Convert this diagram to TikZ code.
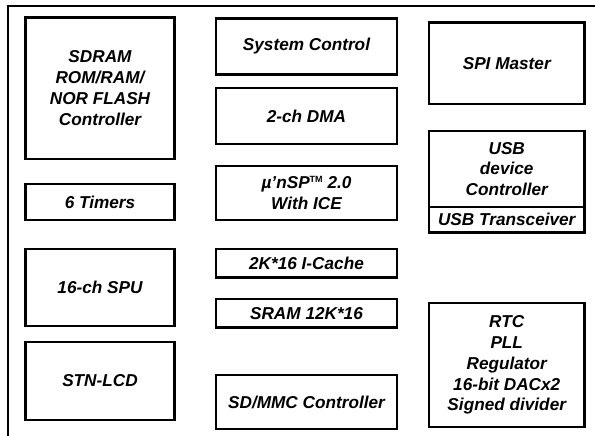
\documentclass[tikz,border=0pt]{standalone}
\usepackage{fontspec}
\setmainfont{Liberation Sans}
\begin{document}
\begin{tikzpicture}[x=1pt,y=-1pt,
  blk/.style={draw, line width=2.6pt, rectangle, inner sep=0pt, align=center,
    font=\fontsize{17.2}{20.8}\selectfont\bfseries\itshape}]
\useasboundingbox (0,0) rectangle (595,436);
\fill[white] (0,0) rectangle (595,436);
\coordinate (fb) at (8,440);
\coordinate (fc) at (8,6);
\coordinate (fr) at (600,6);
\draw[line width=2.3pt] (fb) -- (fc) -- (fr);
% helper: box from (x1,y1) to (x2,y2)
\newcommand{\blkbox}[6]{%
  \node[blk, minimum width={#4-#2}, minimum height={#5-#3}] (#1) at ({(#2+#4)/2},{(#3+#5)/2}) {#6};}
\newcommand{\tmark}{\raisebox{0.36em}{\fontsize{9}{9}\selectfont\bfseries\upshape TM}}
% left column
\blkbox{sdram}{25.5}{17.5}{174.5}{159}{SDRAM\\ROM/RAM/\\NOR FLASH\\Controller}
\blkbox{timers}{25.5}{184}{174.5}{220}{6 Timers}
\blkbox{spu}{25.5}{249}{174.5}{326}{16-ch SPU}
\blkbox{lcd}{25.5}{342}{174.5}{420}{STN-LCD}
% middle column
\blkbox{sys}{216}{18.5}{397}{74.5}{System Control}
\blkbox{dma}{216}{88}{397}{144}{2-ch DMA}
\blkbox{cpu}{216}{166}{397}{220}{µ’nSP\tmark{} 2.0\\With ICE}
\blkbox{cache}{216}{249}{397}{277.5}{2K*16 I-Cache}
\blkbox{sram}{216}{299}{397}{327.5}{SRAM 12K*16}
\blkbox{sd}{216}{375}{397}{429}{SD/MMC Controller}
% right column
\blkbox{spi}{429}{22.5}{584.5}{104}{SPI Master}
\blkbox{usb}{429}{131}{584.5}{207}{USB\\device\\Controller}
\blkbox{usbt}{429}{207}{584.5}{232.5}{USB Transceiver}
\blkbox{rtc}{429}{303}{584.5}{427}{RTC\\PLL\\Regulator\\16-bit DACx2\\Signed divider}
\end{tikzpicture}
\end{document}
